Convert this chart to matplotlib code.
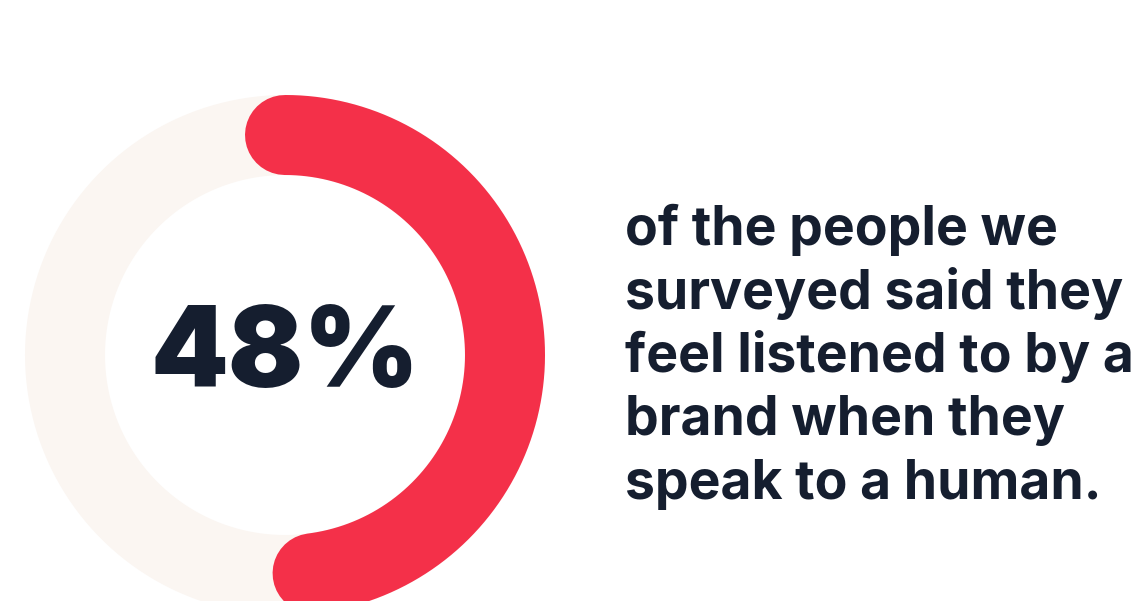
import numpy as np
import matplotlib
matplotlib.use("Agg")
import matplotlib.pyplot as plt

# Survey figure
share_pct = 48
headline = f"{share_pct}%"
caption_lines = [
    "of the people we",
    "surveyed said they",
    "feel listened to by a",
    "brand when they",
    "speak to a human.",
]

RED = "#F43049"
TRACK = "#FBF6F2"
INK = "#151E2F"

W, H, DPI = 1141, 601, 100
fig = plt.figure(figsize=(W / DPI, H / DPI), dpi=DPI)
ax = fig.add_axes([0, 0, 1, 1])
ax.set_xlim(0, W)
ax.set_ylim(H, 0)
ax.set_aspect("equal")
ax.axis("off")

cx, cy = 285, 355
r_mid = 220
ring_px = 80
lw = ring_px * 72 / DPI

# full background track
t = np.linspace(0, 2 * np.pi, 721)
ax.plot(cx + r_mid * np.cos(t), cy + r_mid * np.sin(t), color=TRACK,
        lw=lw, solid_capstyle="butt", zorder=1)

# progress arc, clockwise from 12 o'clock, rounded ends
sweep = 2 * np.pi * share_pct / 100
a = np.linspace(0, sweep, 400)
ax.plot(cx + r_mid * np.sin(a), cy - r_mid * np.cos(a), color=RED,
        lw=lw, solid_capstyle="round", zorder=2)

ax.text(cx, 357, headline, ha="center", va="center", color=INK,
        fontsize=80, fontweight=900, family=["Inter", "DejaVu Sans"])

y0, dy = 245, 63.5
for i, line in enumerate(caption_lines):
    ax.text(625, y0 + i * dy, line, ha="left", va="baseline", color=INK,
            fontsize=38.5, fontweight=700, family=["Inter", "DejaVu Sans"])

fig.savefig("out.png", dpi=DPI, facecolor="white")
